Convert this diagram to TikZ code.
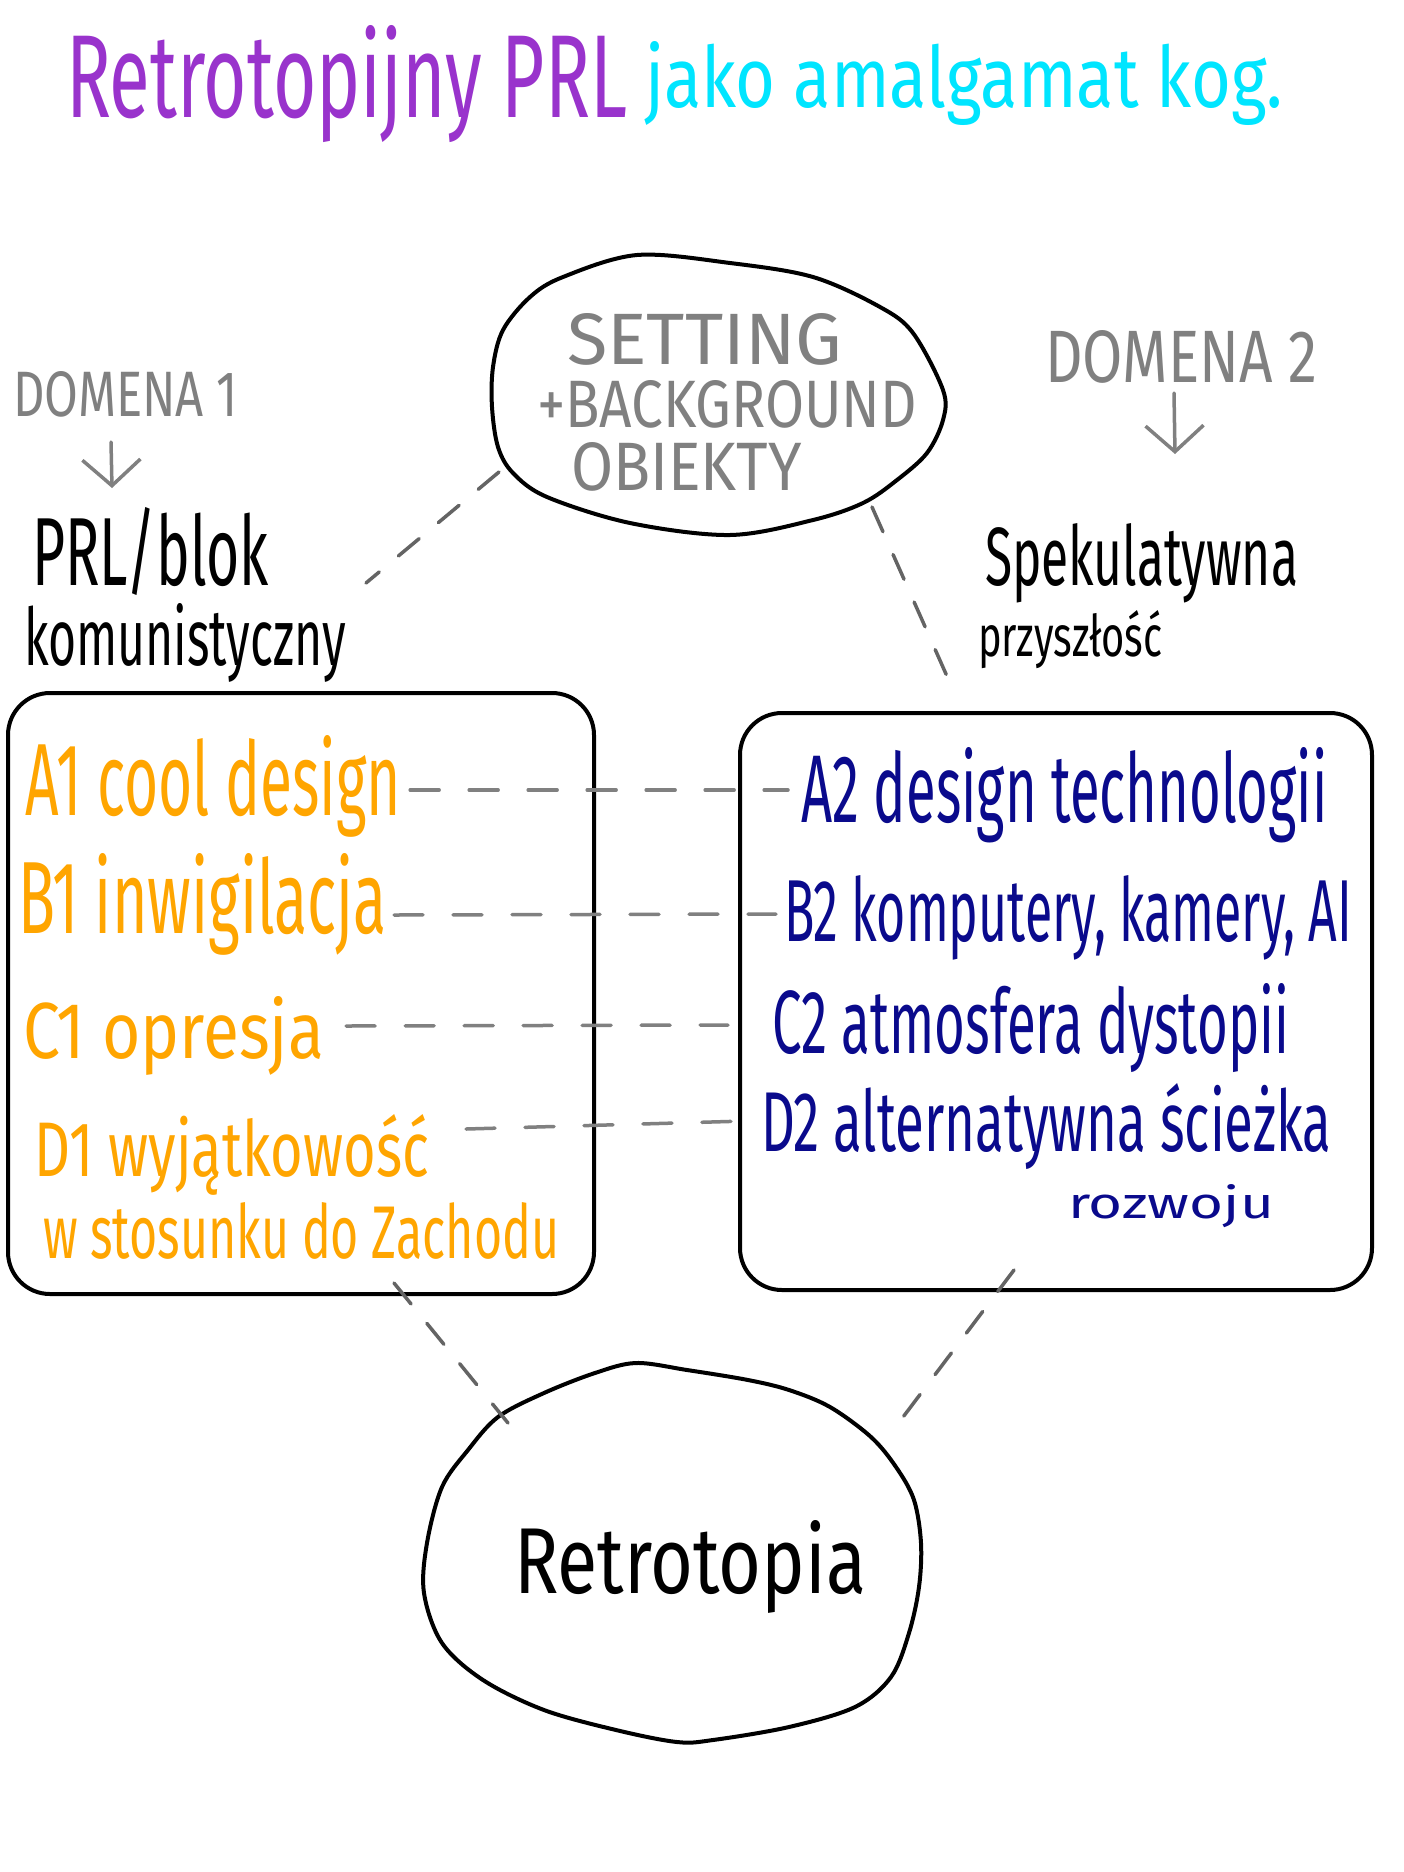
\documentclass[tikz,border=0pt]{standalone}
\usepackage{fontspec}
\setmainfont{Fira Sans}
\usepackage{graphicx}
\usetikzlibrary{arrows.meta,calc}
\definecolor{tpurple}{RGB}{153,51,204}
\definecolor{tcyan}{RGB}{0,229,255}
\definecolor{torange}{RGB}{255,165,0}
\definecolor{tnavy}{RGB}{10,10,140}
\definecolor{tgray}{RGB}{128,128,128}
\definecolor{dgray}{RGB}{100,100,100}
\newcommand{\hw}[3]{\resizebox{#1pt}{#2pt}{#3}}
\begin{document}
\begin{tikzpicture}[x=1pt,y=-1pt,
  txt/.style={anchor=base west, inner sep=0pt, outer sep=0pt},
  outline/.style={draw=black, line width=4pt, line join=round, line cap=round},
  boxshape/.style={outline, rounded corners=42pt, inner sep=0pt, rectangle},
  dline/.style={draw=tgray, line width=3.5pt, line cap=round, dash pattern=on 29pt off 30pt},
  dcurve/.style={draw=dgray, line width=3.5pt, line cap=round, dash pattern=on 27pt off 25pt},
  garrow/.style={draw=tgray, line width=3.5pt, line cap=round, -{Straight Barb[length=26pt,width=58pt,line width=3.5pt]}}
]
\fill[white] (0,0) rectangle (1404,1872);
\useasboundingbox (0,0) rectangle (1404,1872);

% title
\node[txt, text=tpurple] (title) at (66,117) {\hw{561}{92}{Retrotopijny PRL}};
\node[txt, text=tcyan] (subtitle) at (645,107) {\hw{638}{66}{jako amalgamat kog.}};

% top ellipse
\draw[outline] plot[smooth cycle, tension=0.55] coordinates {
 (637,255) (730,263) (813,277) (880,307) (913,333) (943,390) (943,420)
 (927,453) (897,480) (863,503) (813,520) (730,535) (630,523) (547,497)
 (513,473) (498,447) (492,407) (493,367) (503,330) (530,297) (563,277)};
\coordinate (setc) at (719,392);
\node[txt, text=tgray] (setting) at (567,364) {\hw{275}{51}{SETTING}};
\node[txt, text=tgray] (background) at (537,427) {\hw{380}{47}{+BACKGROUND}};
\node[txt, text=tgray] (obiekty) at (571,490) {\hw{231}{48}{OBIEKTY}};

% domain labels
\node[txt, text=tgray] (dom1) at (13,416) {\hw{225}{45}{DOMENA 1}};
\coordinate (d1a) at (111,442);
\coordinate (d1b) at (112,488);
\draw[garrow] (d1a) -- (d1b);
\node[txt] (prl) at (32,585) {\hw{237}{78}{PRL/blok}};
\node[txt] (komun) at (24,665) {\hw{322}{62}{komunistyczny}};

\node[txt, text=tgray] (dom2) at (1045,382) {\hw{272}{52}{DOMENA 2}};
\coordinate (d2a) at (1174,393);
\coordinate (d2b) at (1175,454);
\draw[garrow] (d2a) -- (d2b);
\node[txt] (spek) at (985,585) {\hw{313}{62}{Spekulatywna}};
\node[txt] (przysz) at (978,656) {\hw{184}{46}{przyszłość}};

% boxes
\node[boxshape, minimum width=586pt, minimum height=601pt] (lbox) at (301,993.5) {};
\node[boxshape, minimum width=632pt, minimum height=577pt] (rbox) at (1056,1001.5) {};

% left box text
\node[txt, text=torange] (a1) at (26,815) {\hw{375}{80}{A1 cool design}};
\node[txt, text=torange] (b1) at (18,933) {\hw{369}{80}{B1 inwigilacja}};
\node[txt, text=torange] (c1) at (23,1058) {\hw{301}{62}{C1 opresja}};
\node[txt, text=torange] (d1) at (34,1176) {\hw{395}{62}{D1 wyjątkowość}};
\node[txt, text=torange] (d1b2) at (43,1258) {\hw{516}{56}{w stosunku do Zachodu}};

% right box text
\node[txt, text=tnavy] (a2) at (801,822) {\hw{526}{75}{A2 design technologii}};
\node[txt, text=tnavy] (b2) at (784,941) {\hw{568}{66}{B2 komputery, kamery, AI}};
\node[txt, text=tnavy] (c2) at (772,1053) {\hw{517}{70}{C2 atmosfera dystopii}};
\node[txt, text=tnavy] (d2) at (761,1151) {\hw{570}{68}{D2 alternatywna ścieżka}};
\node[txt, text=tnavy] (d2b2) at (1068,1218) {\hw{206}{34}{rozwoju}};

% horizontal dashed links
\draw[dline] ($(a1.base east)+(9,-25)$) -- ($(a2.base west)+(-13,-32)$);
\draw[dline] ($(b1.base east)+(7,-18)$) -- ($(b2.base west)+(-8,-27)$);
\draw[dline] ($(c1.base east)+(22,-32)$) -- ($(c2.base west)+(-44,-28)$);
\draw[dline] ($(d1.base east)+(37,-47)$) -- ($(d2.base west)+(-15,-30)$);

% bottom ellipse
\draw[outline] plot[smooth cycle, tension=0.55] coordinates {
 (636,1363) (687,1370) (748,1380) (789,1390) (830,1407) (871,1437) (896,1467)
 (914,1500) (921,1543) (919,1587) (909,1633) (891,1677) (855,1707) (789,1727)
 (713,1740) (677,1742) (616,1730) (544,1710) (483,1680) (442,1643) (424,1593)
 (427,1543) (442,1487) (468,1450) (498,1417) (544,1393) (595,1373)};
\coordinate (retc) at (673,1560);
\node[txt] (retro) at (514,1593) {\hw{352}{73}{Retrotopia}};

% diagonal dashed links
\coordinate (tlA) at (499,472);
\coordinate (tlB) at (366,583);
\draw[dcurve] (tlA) -- (tlB);
\coordinate (trA) at (872,507);
\coordinate (trB) at (950,683);
\draw[dcurve] (trA) -- (trB);
\coordinate (blA) at (394,1283);
\coordinate (blB) at (508,1423);
\draw[dcurve] (blA) -- (blB);
\coordinate (brA) at (1014,1270);
\coordinate (brB) at (891,1433);
\draw[dcurve] (brA) -- (brB);
\end{tikzpicture}
\end{document}
